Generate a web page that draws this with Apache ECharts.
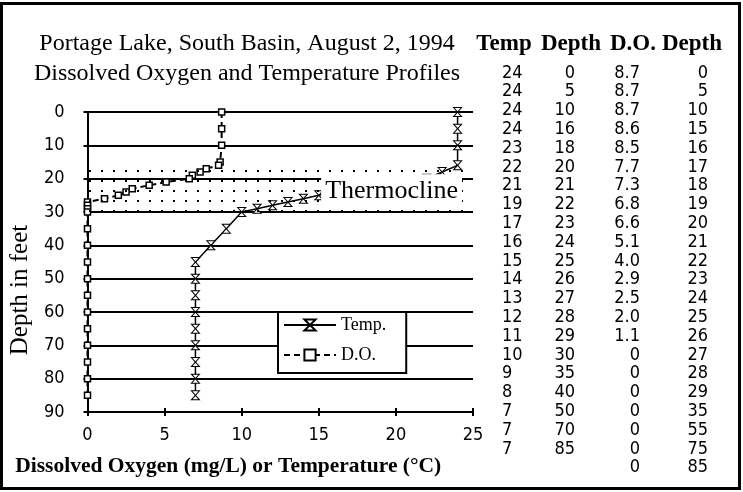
<!DOCTYPE html>
<html><head><meta charset="utf-8">
<script src="https://cdn.jsdelivr.net/npm/echarts@6/dist/echarts.min.js"></script>
<style>html,body{margin:0;padding:0;background:#fff}#c{width:743px;height:492px}</style>
</head><body><div id="c"></div>
<script>
// ---- data ----
const titleLines = ['Portage Lake, South Basin, August 2, 1994', 'Dissolved Oxygen and Temperature Profiles'];
const xTicks = [0, 5, 10, 15, 20, 25];
const yTicks = [0, 10, 20, 30, 40, 50, 60, 70, 80, 90];
const tempDepths = [0, 5, 10, 16, 18, 20, 21, 22, 23, 24, 25, 26, 27, 28, 29, 30, 35, 40, 45, 50, 55, 60, 65, 70, 75, 80, 85];
const tempValues = [24, 24, 24, 24, 23, 22, 21, 19, 17, 16, 15, 14, 13, 12, 11, 10, 9, 8, 7, 7, 7, 7, 7, 7, 7, 7, 7];
const doDepths = [0, 5, 10, 15, 16, 17, 18, 19, 20, 21, 22, 23, 24, 25, 26, 27, 28, 29, 30, 35, 40, 45, 50, 55, 60, 65, 70, 75, 80, 85];
const doValues = [8.7, 8.7, 8.7, 8.6, 8.5, 7.7, 7.3, 6.8, 6.6, 5.1, 4.0, 2.9, 2.5, 2.0, 1.1, 0, 0, 0, 0, 0, 0, 0, 0, 0, 0, 0, 0, 0, 0, 0];
const thermocline = [16, 30];
const tableHeader = ['Temp', 'Depth', 'D.O.', 'Depth'];
const tableTemp = ['24', '24', '24', '24', '23', '22', '21', '19', '17', '16', '15', '14', '13', '12', '11', '10', '9', '8', '7', '7', '7'];
const tableTempDepth = ['0', '5', '10', '16', '18', '20', '21', '22', '23', '24', '25', '26', '27', '28', '29', '30', '35', '40', '50', '70', '85'];
const tableDO = ['8.7', '8.7', '8.7', '8.6', '8.5', '7.7', '7.3', '6.8', '6.6', '5.1', '4.0', '2.9', '2.5', '2.0', '1.1', '0', '0', '0', '0', '0', '0', '0'];
const tableDODepth = ['0', '5', '10', '15', '16', '17', '18', '19', '20', '21', '22', '23', '24', '25', '26', '27', '28', '29', '35', '55', '75', '85'];

// ---- styles ----
const serif = "'Liberation Serif','Times New Roman',serif";
const narrow = "'Liberation Sans Narrow','Arial Narrow','DejaVu Sans Condensed',sans-serif";

const dot = document.createElement('canvas');
dot.width = 12; dot.height = 10;
const g = dot.getContext('2d');
g.fillStyle = '#000';
g.fillRect(5, 0, 2, 2);

function txt(x, y, text, align, font) {
  return { type: 'text', x: x, y: y, silent: true,
    style: { text: text, fill: '#000', font: font, align: align, verticalAlign: 'middle',
             textAlign: align, textVerticalAlign: 'middle' } };
}

const graphics = [];
graphics.push({ type: 'rect', silent: true, shape: { x: 1.5, y: 3.5, width: 738, height: 485 },
  style: { fill: 'none', stroke: '#000', lineWidth: 3 }, z: 100 });
graphics.push(txt(247, 44, titleLines[0], 'center', 'normal 24px ' + serif));
graphics.push(txt(247, 74, titleLines[1], 'center', 'normal 24px ' + serif));
const headerX = [504, 571, 633, 692];
tableHeader.forEach((h, i) => graphics.push(txt(headerX[i], 44, h, 'center', 'bold 23px ' + serif)));
const rowY0 = 73, rowStep = 18.8;
const numFont = 'normal 18px ' + narrow;
tableTemp.forEach((v, i) => graphics.push(txt(502, rowY0 + i * rowStep, v, 'left', numFont)));
tableTempDepth.forEach((v, i) => graphics.push(txt(575, rowY0 + i * rowStep, v, 'right', numFont)));
tableDO.forEach((v, i) => graphics.push(txt(640, rowY0 + i * rowStep, v, 'right', numFont)));
tableDODepth.forEach((v, i) => graphics.push(txt(708, rowY0 + i * rowStep, v, 'right', numFont)));

const xMin = xTicks[0], xMax = xTicks[xTicks.length - 1], xInt = xTicks[1] - xTicks[0];
const yMin = yTicks[0], yMax = yTicks[yTicks.length - 1], yInt = yTicks[1] - yTicks[0];

const axisLabelStyle = { color: '#000', fontFamily: narrow, fontSize: 18 };

const option = {
  animation: false,
  backgroundColor: '#fff',
  graphic: graphics,
  grid: { left: 86, right: 270, top: 112, bottom: 80 },
  legend: {
    data: ['Temp.', 'D.O.'], orient: 'vertical', left: 278, top: 312,
    itemWidth: 52, itemHeight: 14, itemGap: 12,
    padding: [4, 20, 9, 5],
    backgroundColor: '#fff', borderColor: '#000', borderWidth: 2, borderRadius: 0,
    textStyle: { color: '#000', fontFamily: serif, fontSize: 18 }
  },
  xAxis: [
    { type: 'value', min: xMin, max: xMax, interval: xInt,
      axisLine: { show: true, onZero: false, lineStyle: { color: '#000', width: 2 } },
      axisTick: { show: true, inside: false, length: 4, lineStyle: { color: '#000', width: 2 } },
      axisLabel: Object.assign({ margin: 14 }, axisLabelStyle),
      splitLine: { show: false },
      name: 'Dissolved Oxygen (mg/L) or Temperature (°C)', nameLocation: 'middle', nameGap: 43,
      nameTextStyle: { color: '#000', fontFamily: serif, fontWeight: 'bold', fontSize: 21.5, padding: [0, 104, 0, 0] }
    },
    { type: 'value', min: xMin, max: xMax, interval: xInt, position: 'bottom',
      axisLine: { show: false, onZero: false },
      axisTick: { show: true, inside: true, length: 4, lineStyle: { color: '#000', width: 2 } },
      axisLabel: { show: false }, splitLine: { show: false } }
  ],
  yAxis: [
    { type: 'value', inverse: true, min: yMin, max: yMax, interval: yInt,
      axisLine: { show: true, onZero: false, lineStyle: { color: '#000', width: 2 } },
      axisTick: { show: true, inside: false, length: 4, lineStyle: { color: '#000', width: 2 } },
      axisLabel: Object.assign({ margin: 23 }, axisLabelStyle),
      splitLine: { show: true, lineStyle: { color: '#000', width: 2 } },
      name: 'Depth in feet', nameLocation: 'middle', nameGap: 44, nameRotate: 90,
      nameTextStyle: { color: '#000', fontFamily: serif, fontSize: 25, padding: [0, 56, 0, 0] }
    },
    { type: 'value', inverse: true, min: yMin, max: yMax, interval: yInt, position: 'left',
      axisLine: { show: false, onZero: false },
      axisTick: { show: true, inside: true, length: 4, lineStyle: { color: '#000', width: 2 } },
      axisLabel: { show: false }, splitLine: { show: false } }
  ],
  series: [
    { name: 'Temp.', type: 'line', clip: false, z: 3,
      data: tempDepths.map((d, i) => [tempValues[i], d]),
      symbol: 'path://M0,0L10,0L0,12L10,12Z', symbolSize: [8, 9], symbolKeepAspect: false,
      lineStyle: { color: '#000', width: 1.5, type: 'solid' },
      itemStyle: { color: '#fff', borderColor: '#000', borderWidth: 1 } },
    { name: 'D.O.', type: 'line', clip: false, z: 4,
      data: doDepths.map((d, i) => [doValues[i], d]),
      symbol: 'rect', symbolSize: 6,
      lineStyle: { color: '#000', width: 2, type: [6, 4] },
      itemStyle: { color: '#fff', borderColor: '#000', borderWidth: 1.5 } },
    { name: 'Thermocline', type: 'line', data: [], silent: true, z: 6,
      markArea: { silent: true, z: 10,
        itemStyle: { color: { image: dot, repeat: 'repeat' } },
        label: { show: true, position: 'insideRight', distance: 11, offset: [0, 3],
          color: '#000', fontFamily: serif, fontSize: 26, lineHeight: 27,
          backgroundColor: '#fff', padding: [4, 4, 4, 4] },
        data: [[{ name: 'Thermocline', yAxis: thermocline[0] }, { yAxis: thermocline[1] }]] } }
  ]
};
const chart = echarts.init(document.getElementById('c'), null, { renderer: 'canvas' });
chart.setOption(option);
</script></body></html>
